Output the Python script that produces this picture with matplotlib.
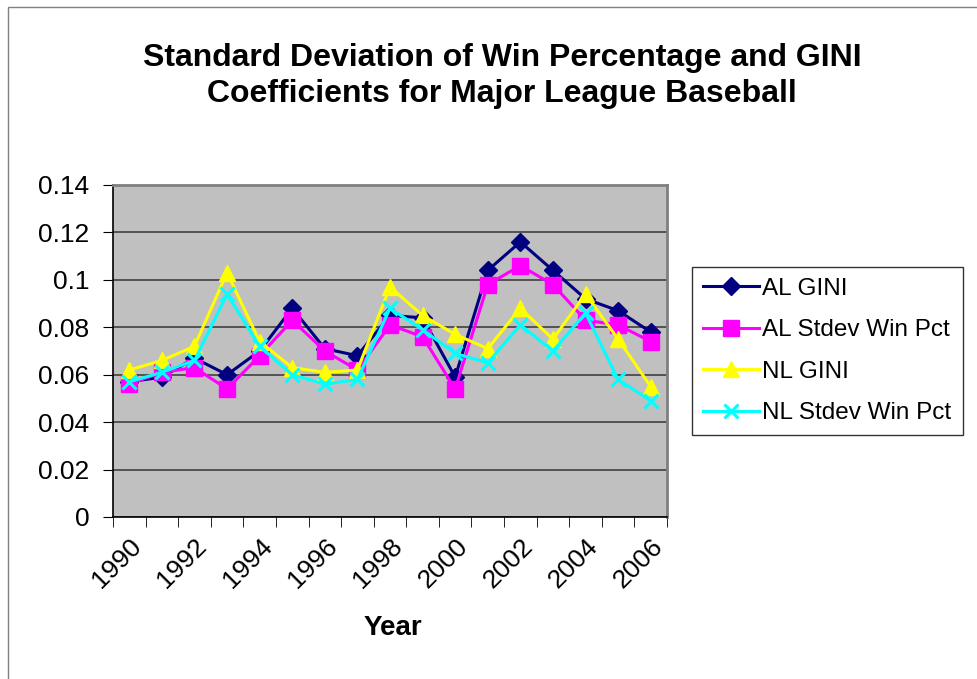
import matplotlib
matplotlib.use("Agg")
import matplotlib.pyplot as plt
from matplotlib.patches import Rectangle
import numpy as np

plt.rcParams["font.family"] = ["Liberation Sans", "DejaVu Sans"]

# Data
years = list(range(1990, 2007))
al_gini = [0.057, 0.059, 0.067, 0.060, 0.070, 0.088, 0.071, 0.068, 0.085,
           0.084, 0.059, 0.104, 0.116, 0.104, 0.092, 0.087, 0.078]
al_stdev = [0.056, 0.061, 0.063, 0.054, 0.068, 0.083, 0.070, 0.062, 0.081,
            0.076, 0.054, 0.098, 0.106, 0.098, 0.083, 0.081, 0.074]
nl_gini = [0.062, 0.066, 0.072, 0.103, 0.074, 0.063, 0.061, 0.062, 0.097,
           0.085, 0.077, 0.071, 0.088, 0.075, 0.094, 0.075, 0.055]
nl_stdev = [0.057, 0.061, 0.066, 0.094, 0.072, 0.060, 0.056, 0.058, 0.088,
            0.079, 0.069, 0.065, 0.081, 0.070, 0.086, 0.058, 0.049]
yticks = [0, 0.02, 0.04, 0.06, 0.08, 0.1, 0.12, 0.14]
ytick_labels = ["0", "0.02", "0.04", "0.06", "0.08", "0.1", "0.12", "0.14"]

W, H = 977, 679
fig = plt.figure(figsize=(W / 100, H / 100), dpi=100)

# outer chart border (only top and left visible in the original)
fig.patches.append(Rectangle((8 / W, -0.1), 1.2, 1 - 7 / H + 0.1,
                             transform=fig.transFigure, fill=False,
                             edgecolor="#808080", linewidth=1.0))

ax = fig.add_axes([113 / W, 1 - 517 / H, (667 - 113) / W, (517 - 185) / H])
ax.set_facecolor("#C0C0C0")

x = np.arange(len(years))
series = [
    (al_gini, "AL GINI", "#000080", "D", 9),
    (al_stdev, "AL Stdev Win Pct", "#FF00FF", "s", 11),
    (nl_gini, "NL GINI", "#FFFF00", "^", 12),
    (nl_stdev, "NL Stdev Win Pct", "#00FFFF", "x", 10),
]
for vals, name, col, mk, ms in series:
    ax.plot(x, vals, color=col, linewidth=2.2, marker=mk, markersize=ms,
            markerfacecolor=col, markeredgecolor=col,
            markeredgewidth=2.2 if mk == "x" else 1, label=name)

ax.set_xlim(-0.5, len(years) - 0.5)
ax.set_ylim(0, 0.14)
ax.set_yticks(yticks)
ax.set_yticklabels(ytick_labels, fontsize=19)
ax.yaxis.grid(True, color="#404040", linewidth=1.2)
ax.set_axisbelow(True)

ax.set_xticks(x[::2])
ax.set_xticklabels([str(y) for y in years[::2]], rotation=45, ha="right",
                   rotation_mode="anchor", fontsize=19)
ax.tick_params(axis="x", which="major", length=0, pad=12)
ax.set_xticks(np.arange(-0.5, len(years)), minor=True)
ax.tick_params(axis="x", which="minor", length=7, direction="out",
               color="black")
ax.tick_params(axis="y", length=7, direction="out", color="black", pad=10)

for side in ["top", "right"]:
    ax.spines[side].set_color("#808080")
    ax.spines[side].set_linewidth(2)
for side in ["left", "bottom"]:
    ax.spines[side].set_color("black")
    ax.spines[side].set_linewidth(1.2)

fig.text(502 / W, 1 - 76 / H,
         "Standard Deviation of Win Percentage and GINI\n"
         "Coefficients for Major League Baseball",
         ha="center", va="center", fontsize=23, fontweight="bold",
         linespacing=1.3)
fig.text(393 / W, 1 - 628 / H, "Year", ha="center", va="center",
         fontsize=20, fontweight="bold")

leg = fig.legend(loc="upper left", bbox_to_anchor=(692 / W, 1 - 267 / H),
                 fontsize=17.5, frameon=True, fancybox=False,
                 edgecolor="black", handlelength=2.3, labelspacing=0.8,
                 borderaxespad=0, borderpad=0.45, handletextpad=0.15)
leg.get_frame().set_linewidth(1.0)

fig.savefig("out.png", dpi=100, facecolor="white")
